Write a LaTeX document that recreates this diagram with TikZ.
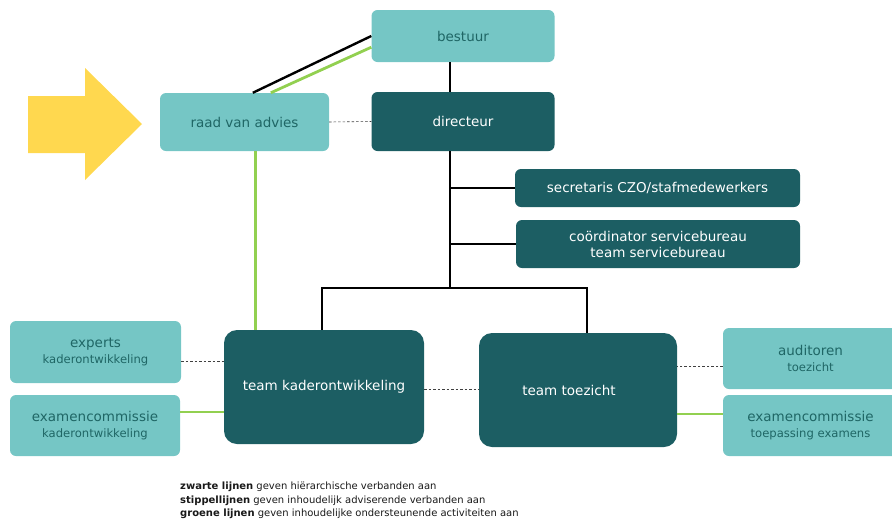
\documentclass[tikz,border=0pt]{standalone}
\usepackage{fontspec}
\setmainfont{DejaVu Sans}
\setsansfont{DejaVu Sans}
\usetikzlibrary{calc}
\definecolor{lightteal}{HTML}{75C6C5}
\definecolor{darkteal}{HTML}{1C5E63}
\definecolor{tealtext}{HTML}{1F6665}
\definecolor{supportgreen}{HTML}{92D050}
\definecolor{arrowyellow}{HTML}{FFD84F}
\newcommand{\mainsize}{\fontsize{13.5}{16}\selectfont}
\newcommand{\subsize}{\fontsize{11.6}{13.5}\selectfont}
\begin{document}
\begin{tikzpicture}[x=1pt, y=-1pt,
  lightbox/.style={fill=lightteal, rounded corners=6pt, text=tealtext, align=center, inner sep=0pt, font=\mainsize},
  darkbox/.style={fill=darkteal, rounded corners=6pt, text=white, align=center, inner sep=0pt, font=\mainsize},
  teambox/.style={darkbox, rounded corners=13pt},
  blackline/.style={line width=2.4pt, black},
  greenline/.style={line width=2.8pt, supportgreen},
  dotline/.style={line width=0.6pt, black!75, dash pattern=on 2.5pt off 2pt}]
\useasboundingbox (0,0) rectangle (892,520);

% Yellow arrow
\fill[arrowyellow] (28,96) -- (85,96) -- (85,68) -- (142,124) -- (85,180) -- (85,153) -- (28,153) -- cycle;

% Top of the chart
\node[lightbox, minimum width=183pt, minimum height=52pt] (bestuur) at (463,36) {bestuur};
\node[lightbox, minimum width=169pt, minimum height=58pt] (raad) at (244.5,122) {raad van advies};
\node[darkbox, minimum width=183pt, minimum height=59pt] (directeur) at (463,121.5) {directeur};
\node[darkbox, minimum width=285pt, minimum height=38pt] (secretaris) at (657.5,188) {secretaris CZO/stafmedewerkers};
\node[darkbox, minimum width=284pt, minimum height=48pt] (coordinator) at (658,244) {coördinator servicebureau\\team servicebureau};

% Teams
\node[teambox, minimum width=200pt, minimum height=114pt] (teamkader) at (324,387) {team kaderontwikkeling};
\node[teambox, minimum width=198pt, minimum height=114pt] (teamtoezicht) at (578,390) {team toezicht\hspace*{18pt}};

% Side boxes
\node[lightbox, minimum width=171pt, minimum height=62pt] (experts) at (95.5,352) {experts\\{\subsize kaderontwikkeling}};
\node[lightbox, minimum width=170pt, minimum height=61pt] (examkader) at (95,425.5) {examencommissie\\{\subsize kaderontwikkeling}};
\node[lightbox, minimum width=175pt, minimum height=61pt] (auditoren) at (810.5,358.5) {auditoren\\{\subsize toezicht}};
\node[lightbox, minimum width=175pt, minimum height=61pt] (examtoep) at (810.5,425.5) {examencommissie\\{\subsize toepassing examens}};

% Black lines
\coordinate (spine) at (450,288);
\coordinate (kaderdrop) at (322,288);
\coordinate (toezichtdrop) at (587,288);
\draw[blackline] ($(raad.north west)+(93,0)$) -- (bestuur.west);
\draw[blackline] (bestuur.south -| spine) -- (directeur.north -| spine);
\draw[blackline] (directeur.south -| spine) -- (spine);
\draw[blackline] (secretaris.west -| spine) -- (secretaris.west);
\draw[blackline] (coordinator.west -| spine) -- (coordinator.west);
\draw[blackline] (teamkader.north -| kaderdrop) -- (kaderdrop) -- (toezichtdrop) -- (teamtoezicht.north -| toezichtdrop);

% Green lines
\draw[greenline] ($(raad.north west)+(111,0)$) -- ($(bestuur.south west)+(0,-15)$);
\coordinate (advies) at ($(raad.south west)+(96,0)$);
\draw[greenline] (advies) -- (advies |- teamkader.north);
\draw[greenline] ($(examkader.east)+(0,-13.5)$) coordinate (g1) -- (g1 -| teamkader.west);
\draw[greenline] ($(examtoep.west)+(0,-11.5)$) coordinate (g2) -- (g2 -| teamtoezicht.east);

% Dashed lines
\draw[dotline] (raad.east) -- (directeur.west);
\draw[dotline] ($(experts.east)+(0,9)$) coordinate (d1) -- (d1 -| teamkader.west);
\draw[dotline] (teamkader.east |- 0,389) -- (teamtoezicht.west |- 0,389);
\draw[dotline] ($(auditoren.west)+(0,7.5)$) coordinate (d2) -- (d2 -| teamtoezicht.east);

% Legend
\node[anchor=north west, align=left, inner sep=0pt, text=black!90, font=\fontsize{10}{13.5}\selectfont] (legend) at (180,482)
  {\textbf{zwarte lijnen} geven hiërarchische verbanden aan\\
   \textbf{stippellijnen} geven inhoudelijk adviserende verbanden aan\\
   \textbf{groene lijnen} geven inhoudelijke ondersteunende activiteiten aan};
\end{tikzpicture}
\end{document}
